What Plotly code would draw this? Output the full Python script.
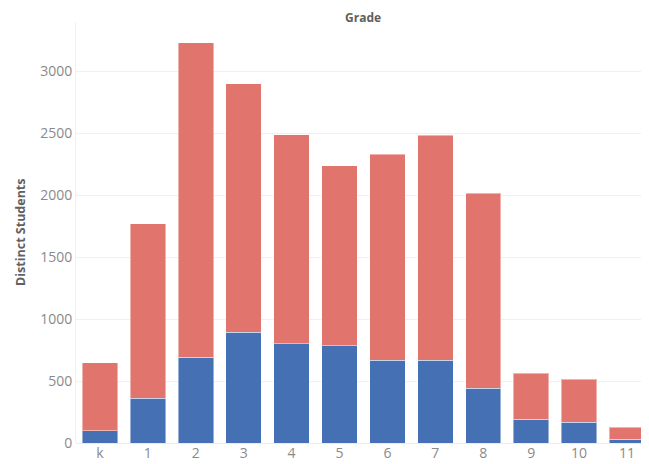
import plotly.graph_objects as go

grades = ["k", "1", "2", "3", "4", "5", "6", "7", "8", "9", "10", "11"]
blue_values = [100, 360, 691, 895, 803, 787, 667, 667, 441, 191, 169, 30]
totals = [648, 1771, 3232, 2902, 2490, 2238, 2332, 2485, 2017, 562, 513, 127]
red_values = [t - b for t, b in zip(totals, blue_values)]
y_ticks = [0, 500, 1000, 1500, 2000, 2500, 3000]

BLUE = "#4670B4"
RED = "#E1746D"
FONT = "Open Sans, Lato, sans-serif"

fig = go.Figure()
fig.add_trace(go.Bar(x=grades, y=blue_values, marker=dict(color=BLUE, line=dict(color="rgba(255,255,255,0.45)", width=1)), name="A"))
fig.add_trace(go.Bar(x=grades, y=red_values, marker=dict(color=RED, line=dict(color="rgba(255,255,255,0.45)", width=1)), name="B"))

fig.update_layout(
    width=641, height=456,
    barmode="stack", bargap=0.26,
    showlegend=False,
    paper_bgcolor="white", plot_bgcolor="white",
    margin=dict(l=67.5, r=0, t=14, b=21),
    font=dict(family=FONT, color="#8a8a8a", size=14),
    xaxis=dict(
        type="category", range=[-0.5, 11.46],
        showgrid=False, showline=False, zeroline=False,
        ticks="", tickfont=dict(size=14, color="#8a8a8a"),
    ),
    yaxis=dict(
        range=[0, 3400], tickvals=y_ticks,
        showgrid=True, gridcolor="#f0f0f0", gridwidth=1,
        zeroline=True, zerolinecolor="#ececec", zerolinewidth=1,
        showline=True, linecolor="#f0f0f0", linewidth=1,
        ticks="", ticklen=0, tickfont=dict(size=14, color="#8a8a8a"),
    ),
    annotations=[
        dict(text="<b>Grade</b>", xref="paper", yref="paper", x=0.5, y=1,
             xanchor="center", yanchor="middle", yshift=5, showarrow=False,
             font=dict(family=FONT, size=12, color="#606060")),
        dict(text="<b>Distinct Students</b>", xref="paper", yref="paper", x=0, y=0.5,
             xanchor="center", yanchor="middle", xshift=-55.5, textangle=-90, showarrow=False,
             font=dict(family=FONT, size=12.5, color="#606060")),
    ],
)

fig.write_html("out.html")
